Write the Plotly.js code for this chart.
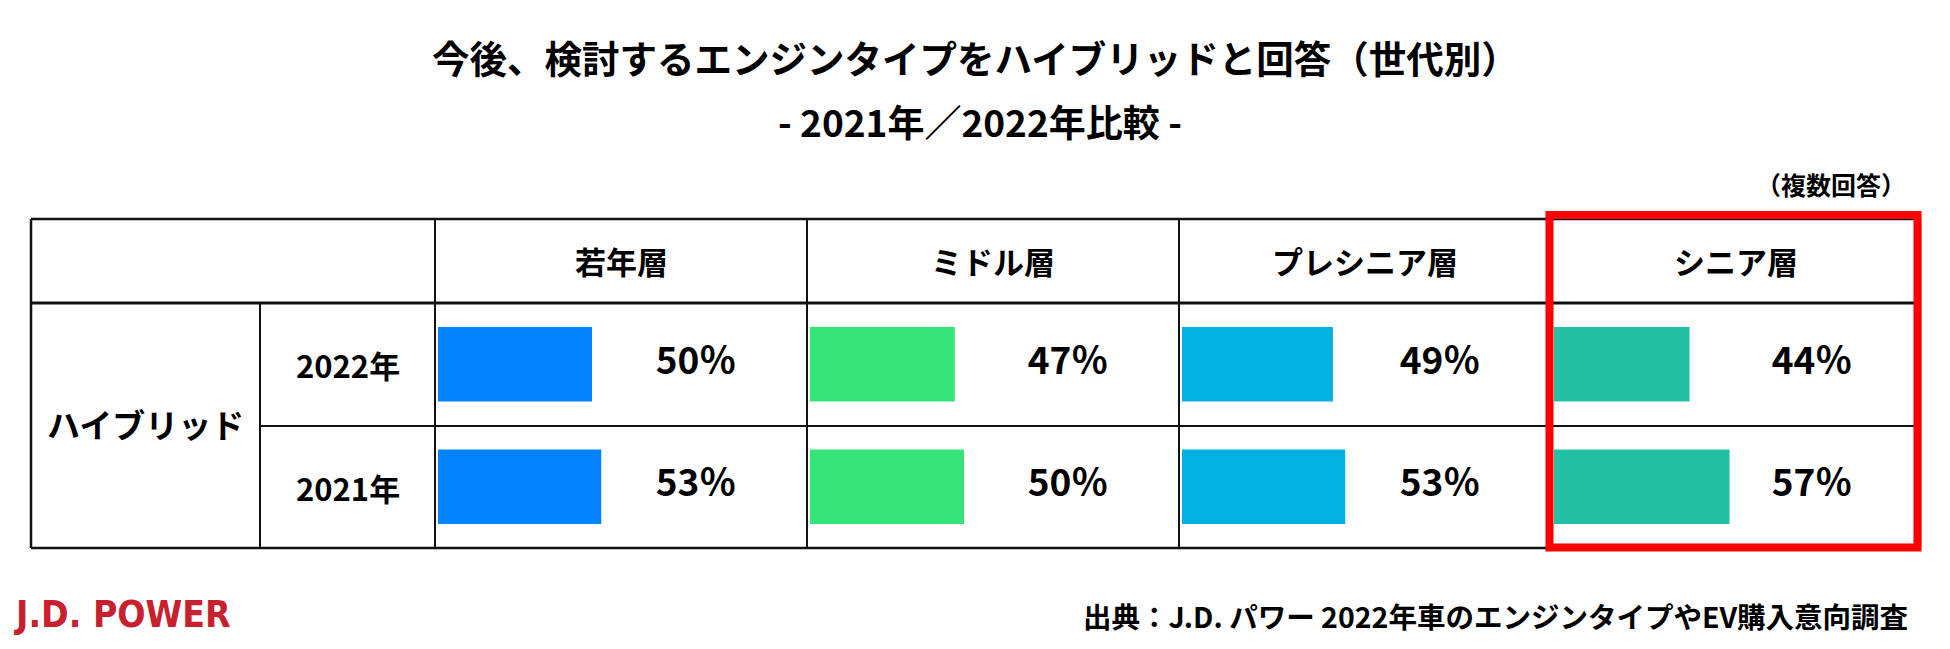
<!DOCTYPE html>
<html>
<head>
<meta charset="utf-8">
<script src="https://cdn.plot.ly/plotly-3.0.1.min.js"></script>
<style>
  html, body { margin: 0; padding: 0; background: #ffffff; }
  #chart { width: 1950px; height: 649px; }
</style>
</head>
<body>
<div id="chart"></div>
<script>
// ---- data ----
const groups = ['若年層', 'ミドル層', 'プレシニア層', 'シニア層'];
const years = ['2022年', '2021年'];
const values2022 = [50, 47, 49, 44];
const values2021 = [53, 50, 53, 57];
const rowLabel = 'ハイブリッド';
const titleText = '今後、検討するエンジンタイプをハイブリッドと回答（世代別）';
const subtitleText = '- 2021年／2022年比較 -';
const noteText = '（複数回答）';
const sourceText = '出典：J.D. パワー 2022年車のエンジンタイプやEV購入意向調査';
const logoText = 'J.D. POWER';

// ---- style ----
const W = 1950, H = 649;
const barColors = ['#0484fc', '#36e57a', '#02b1e1', '#24c0a6'];
const FONT = 'Noto Sans CJK JP, Noto Sans, sans-serif';
const px = v => v / W;          // pixel x -> paper
const py = v => 1 - v / H;      // pixel y -> paper

// table geometry (pixels)
const tLeft = 31, tRight = 1920, tTop = 219, tHead = 303, tMid = 426, tBottom = 548;
const yearCol = 260;
const colEdges = [435, 807, 1179, 1551, 1920];
const pxPerUnit = 3.08;   // bar scale: pixels per percentage point
const barOffset = 3;      // gap between column line and bar start
const labelOffset = 261;  // label centre from column left (px)

const traces = [];
const layout = {
  width: W, height: H,
  margin: {l: 0, r: 0, t: 0, b: 0},
  paper_bgcolor: '#ffffff', plot_bgcolor: 'rgba(0,0,0,0)',
  showlegend: false,
  font: {family: FONT, color: '#000000'},
  yaxis: {
    type: 'category',
    categoryorder: 'array', categoryarray: ['2021年', '2022年'],
    domain: [py(tBottom), py(tHead)],
    range: [-0.5, 1.5],
    showgrid: false, zeroline: false, showticklabels: false, ticks: '',
    showline: false, fixedrange: true
  },
  shapes: [],
  annotations: []
};

groups.forEach((g, i) => {
  const axName = i === 0 ? 'x' : 'x' + (i + 1);
  const axKey = i === 0 ? 'xaxis' : 'xaxis' + (i + 1);
  const left = colEdges[i], right = colEdges[i + 1];
  const lo = -barOffset / pxPerUnit;
  const hi = (right - left - barOffset) / pxPerUnit;
  layout[axKey] = {
    domain: [px(left), px(right)],
    range: [lo, hi],
    anchor: 'y',
    showgrid: false, zeroline: false, showticklabels: false, ticks: '',
    showline: false, fixedrange: true
  };
  traces.push({
    type: 'bar', orientation: 'h',
    x: [values2022[i], values2021[i]],
    y: years,
    xaxis: axName, yaxis: 'y',
    width: 0.61,
    marker: {color: barColors[i], line: {width: 0}},
    hoverinfo: 'skip'
  });
  const labelX = (labelOffset - barOffset) / pxPerUnit;
  traces.push({
    type: 'scatter', mode: 'text',
    x: [labelX, labelX],
    y: years,
    xaxis: axName, yaxis: 'y',
    text: [values2022[i], values2021[i]].map(v => '<b>' + v + '％</b>'),
    textposition: 'middle center',
    textfont: {family: FONT, size: 37, color: '#000000'},
    hoverinfo: 'skip', cliponaxis: false
  });
  // header label
  layout.annotations.push({
    xref: 'paper', yref: 'paper',
    x: px((left + right) / 2), y: py(261),
    xanchor: 'center', yanchor: 'middle',
    text: '<b>' + g + '</b>', showarrow: false,
    font: {family: FONT, size: 31, color: '#000000'}
  });
});

// year row labels
const rowCenters = [364.5, 487];
years.forEach((yr, j) => {
  layout.annotations.push({
    xref: 'paper', yref: 'paper',
    x: px((yearCol + colEdges[0]) / 2), y: py(rowCenters[j]),
    xanchor: 'center', yanchor: 'middle',
    text: '<b>' + yr + '</b>', showarrow: false,
    font: {family: FONT, size: 31, color: '#000000'}
  });
});
// row group label
layout.annotations.push({
  xref: 'paper', yref: 'paper',
  x: px((tLeft + yearCol) / 2), y: py(424),
  xanchor: 'center', yanchor: 'middle',
  text: '<b>' + rowLabel + '</b>', showarrow: false,
  font: {family: FONT, size: 33, color: '#000000'}
});
// title & subtitle
layout.annotations.push({
  xref: 'paper', yref: 'paper', x: px(975), y: py(56),
  xanchor: 'center', yanchor: 'middle', showarrow: false,
  text: '<b>' + titleText + '</b>',
  font: {family: FONT, size: 37.5, color: '#000000'}
});
layout.annotations.push({
  xref: 'paper', yref: 'paper', x: px(980), y: py(121),
  xanchor: 'center', yanchor: 'middle', showarrow: false,
  text: '<b>' + subtitleText + '</b>',
  font: {family: FONT, size: 37, color: '#000000'}
});
// note
layout.annotations.push({
  xref: 'paper', yref: 'paper', x: px(1908), y: py(184),
  xanchor: 'right', yanchor: 'middle', showarrow: false,
  text: '<b>' + noteText + '</b>',
  font: {family: FONT, size: 25, color: '#000000'}
});
// source
layout.annotations.push({
  xref: 'paper', yref: 'paper', x: px(1910), y: py(615),
  xanchor: 'right', yanchor: 'middle', showarrow: false,
  text: '<b>' + sourceText + '</b>',
  font: {family: FONT, size: 28.5, color: '#000000'}
});
// logo
layout.annotations.push({
  xref: 'paper', yref: 'paper', x: px(12), y: py(614),
  xanchor: 'left', yanchor: 'middle', showarrow: false,
  text: '<b>' + logoText + '</b>',
  font: {family: 'DejaVu Sans Condensed, DejaVu Sans', stretch: 'condensed', size: 37, color: '#c8202f'}
});

// table lines
function hline(y, x0, x1, w) {
  layout.shapes.push({type: 'line', xref: 'paper', yref: 'paper',
    x0: px(x0), x1: px(x1), y0: py(y), y1: py(y), line: {color: '#111111', width: w}});
}
function vline(x, y0, y1, w) {
  layout.shapes.push({type: 'line', xref: 'paper', yref: 'paper',
    x0: px(x), x1: px(x), y0: py(y0), y1: py(y1), line: {color: '#111111', width: w}});
}
hline(tTop, tLeft, tRight, 2.5);
hline(tHead, tLeft, tRight, 3);
hline(tMid, yearCol, tRight, 2);
hline(tBottom, tLeft, tRight, 2.5);
vline(tLeft, tTop, tBottom, 2.5);
vline(yearCol, tHead, tBottom, 2);
colEdges.forEach((x, k) => vline(x, tTop, tBottom, k === colEdges.length - 1 ? 2.5 : 2));
// highlight box
layout.shapes.push({type: 'rect', xref: 'paper', yref: 'paper',
  x0: px(1549.5), x1: px(1917.5), y0: py(547.5), y1: py(215),
  line: {color: '#ff0000', width: 8}, fillcolor: 'rgba(0,0,0,0)'});

Plotly.newPlot('chart', traces, layout, {displayModeBar: false, staticPlot: true});
</script>
</body>
</html>
